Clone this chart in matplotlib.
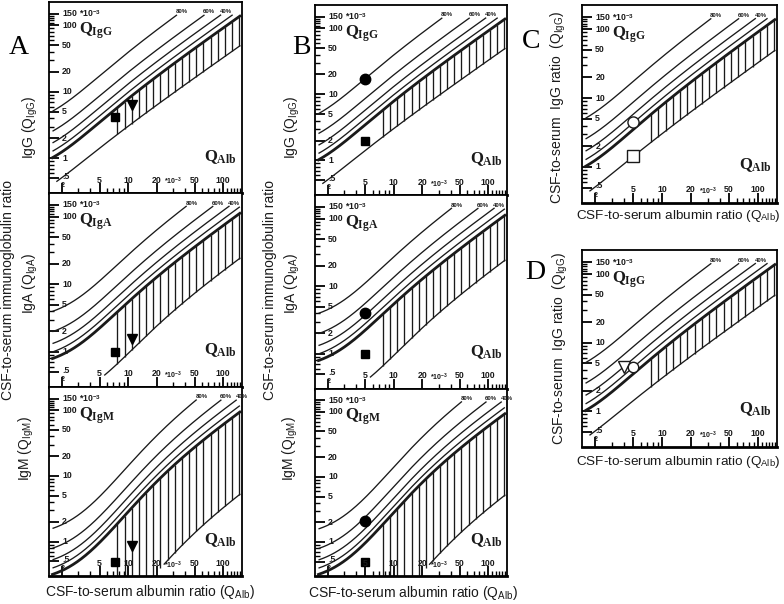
import numpy as np
import matplotlib
matplotlib.use('Agg')
import matplotlib.pyplot as plt
from matplotlib.transforms import blended_transform_factory as btf

plt.rcParams['font.family'] = ['Liberation Sans', 'DejaVu Sans']
plt.rcParams['mathtext.fontset'] = 'custom'
plt.rcParams['mathtext.rm'] = 'Liberation Serif'
plt.rcParams['mathtext.it'] = 'Liberation Serif:bold'
plt.rcParams['mathtext.sf'] = 'Liberation Sans'
plt.rcParams['mathtext.bf'] = 'Liberation Sans:bold'

# Reiber hyperbolas (all quotients in units of 10^-3): Q = ab*sqrt(QAlb^2 + b2) - c
proteins = ['IgG', 'IgA', 'IgM']
upper_ab = [0.93, 0.77, 0.67]
upper_b2 = [6.0, 23.0, 120.0]
upper_c = [1.7, 3.1, 7.1]
lower_ab = [0.33, 0.17, 0.04]
lower_b2 = [2.0, 74.0, 442.0]
lower_c = [0.3, 1.3, 0.82]
fractions = [0.2, 0.4, 0.6, 0.8]
fraction_labels = ['', '40%', '60%', '80%']

y_ticks = [0.5, 1, 2, 5, 10, 20, 50, 100, 150]
y_tick_labels = ['.5', '1', '2', '5', '10', '20', '50', '100', '150 *10$^{\\mathbf{-3}}$']
x_ticks = [5, 10, 20, 50, 100]
x_tick_labels = ['5', '10', '20', '50', '100']

# Patient values (QAlb, Q) in 10^-3
A_square_alb = 7.3
A_square = [4.2, 1.0, 0.49]
A_tri_alb = 11.0
A_tri = [6.3, 1.55, 0.86]
B_circle_alb = 5.0
B_circle = [17.0, 4.0, 2.1]
B_square_alb = 5.0
B_square = [2.0, 1.0, 0.5]
C_circle = (5.0, 4.5)
C_square = (5.0, 1.45)
D_triangle = (4.0, 4.4)
D_circle = (5.0, 4.4)

hatch_start = 7.7
hatch_end = 148.0
n_hatch = 18

W, H = 784, 604
fig = plt.figure(figsize=(7.84, 6.04), dpi=100)
LC = '#1a1a1a'


def add_ax(l, r, t, b):
    return fig.add_axes([l / W, 1 - b / H, (r - l) / W, (b - t) / H])


def reiber(ax, k, label):
    ax.set_xscale('log')
    ax.set_yscale('log')
    ax.set_xlim(1.47, 158)
    ax.set_ylim(0.30, 225)
    x = np.geomspace(1.6, 150, 600)
    up = upper_ab[k] * np.sqrt(x ** 2 + upper_b2[k]) - upper_c[k]
    lo = lower_ab[k] * np.sqrt(x ** 2 + lower_b2[k]) - lower_c[k]
    ymax = 145
    for f, fl in zip(fractions, fraction_labels):
        y = up / (1 - f)
        y = np.where((y > ymax) | (y <= 0), np.nan, y)
        ax.plot(x, y, color=LC, lw=0.95, solid_capstyle='butt')
        if fl:
            idx = np.where(~np.isnan(y))[0][-1]
            ax.text(x[idx] * 1.12, ymax * 1.1, fl, fontsize=4.3, fontweight='bold',
                    ha='center', va='center', color=LC)
    yu = np.where((up > ymax) | (up <= 0), np.nan, up)
    ax.plot(x, yu, color=LC, lw=2.0)
    yl = np.where(lo < 0.45, np.nan, lo)
    ax.plot(x, yl, color=LC, lw=0.95)
    hx = np.geomspace(hatch_start, hatch_end, n_hatch)
    hu = upper_ab[k] * np.sqrt(hx ** 2 + upper_b2[k]) - upper_c[k]
    hl = lower_ab[k] * np.sqrt(hx ** 2 + lower_b2[k]) - lower_c[k]
    hu = np.minimum(hu, ymax)
    ax.vlines(hx, np.maximum(hl, 0.01), hu, color=LC, lw=0.95)

    # ticks
    ax.set_yticks(y_ticks)
    ax.set_yticks([0.6, 0.7, 0.8, 0.9, 3, 4, 6, 7, 8, 9, 30, 40, 60, 70, 80, 90,
                   110, 120, 130, 140], minor=True)
    ax.set_xticks([2] + x_ticks)
    ax.set_xticks([3, 4, 6, 7, 8, 9, 30, 40, 60, 70, 80, 90, 110, 120, 130, 140, 150],
                  minor=True)
    ax.tick_params(which='major', direction='in', length=7, width=1.3,
                   labelleft=False, labelbottom=False, top=False, right=False)
    ax.tick_params(which='minor', direction='in', length=3.5, width=1.0,
                   top=False, right=False, labelleft=False, labelbottom=False)
    for s in ax.spines.values():
        s.set_linewidth(1.3)
    ax.spines['bottom'].set_linewidth(2.0)

    ty = btf(ax.transAxes, ax.transData)
    for v, t in zip(y_ticks, y_tick_labels):
        yy = v * 1.06 if v == 0.5 else v
        ax.text(0.068, yy, t, transform=ty, fontsize=6.3, fontweight='bold',
                ha='left', va='center', color=LC)
    tx = btf(ax.transData, ax.transAxes)
    for v, t in zip(x_ticks, x_tick_labels):
        ax.text(v, 0.068, t, transform=tx, fontsize=6.3, fontweight='bold',
                ha='center', va='center', color=LC)
    ax.text(30, 0.062, '*10$^{\\mathbf{-3}}$', transform=tx, fontsize=5,
            fontweight='bold', ha='center', va='center', color=LC)
    ax.text(2.05, 0.04, '2', transform=tx, fontsize=5, fontweight='bold',
            ha='center', va='center', color=LC)
    ax.text(0.155, 0.85, '$\\mathit{Q}_{\\mathit{' + label + '}}$', transform=ax.transAxes,
            fontsize=12, ha='left', va='center', color=LC)
    ax.text(0.89, 0.19, '$\\mathit{Q}_{\\mathit{Alb}}$', transform=ax.transAxes,
            fontsize=12, ha='center', va='center', color=LC)


axA = [add_ax(49, 242, 2, 193), add_ax(49, 242, 193, 387), add_ax(49, 242, 387, 576)]
axB = [add_ax(315, 507, 5, 195), add_ax(315, 507, 195, 389), add_ax(315, 507, 389, 576)]
axC = add_ax(582, 777, 5, 203)
axD = add_ax(582, 777, 250, 447)

for k in range(3):
    reiber(axA[k], k, proteins[k])
    reiber(axB[k], k, proteins[k])
    axA[k].plot(A_square_alb, A_square[k], 's', color='black', ms=6)
    axA[k].plot(A_tri_alb, A_tri[k], 'v', color='black', ms=6.5)
    axB[k].plot(B_circle_alb, B_circle[k], 'o', color='black', ms=7.5)
    axB[k].plot(B_square_alb, B_square[k], 's', color='black', ms=6)

reiber(axC, 0, 'IgG')
reiber(axD, 0, 'IgG')
axC.plot(*C_circle, 'o', mfc='white', mec=LC, mew=1.0, ms=8)
axC.plot(*C_square, 's', mfc='white', mec=LC, mew=1.0, ms=8)
axD.plot(*D_triangle, 'v', mfc='white', mec=LC, mew=1.0, ms=8)
axD.plot(*D_circle, 'o', mfc='white', mec=LC, mew=1.0, ms=7.5)


def ftext(px, py, s, **kw):
    fig.text(px / W, 1 - py / H, s, **kw)


serif = ['Liberation Serif', 'DejaVu Serif']
ftext(19, 47, 'A', fontsize=20, family=serif, ha='center', va='center')
ftext(301, 47, 'B', fontsize=20, family=serif, ha='center', va='center')
ftext(531, 42, 'C', fontsize=20, family=serif, ha='center', va='center')
ftext(535, 272, 'D', fontsize=20, family=serif, ha='center', va='center')

ylab = dict(fontsize=10, rotation=90, ha='center', va='center', color=LC)
for xc in (30, 293):
    ftext(xc, 127, 'IgG (Q$_{\\mathsf{IgG}}$)', **ylab)
    ftext(xc, 284, 'IgA (Q$_{\\mathsf{IgA}}$)', **ylab)
    ftext(xc - 3, 449, 'IgM (Q$_{\\mathsf{IgM}}$)', **ylab)
ftext(8, 290, 'CSF-to-serum immunoglobulin ratio', **ylab)
ftext(270, 290, 'CSF-to-serum immunoglobulin ratio', **ylab)
ftext(559, 107, 'CSF-to-serum  IgG ratio  (Q$_{\\mathsf{IgG}}$)', **ylab)
ftext(561, 348, 'CSF-to-serum  IgG ratio  (Q$_{\\mathsf{IgG}}$)', **ylab)

xlab = dict(fontsize=10, ha='center', va='center', color=LC)
ftext(150, 592, 'CSF-to-serum albumin ratio (Q$_{\\mathsf{Alb}}$)', **xlab)
ftext(413, 593, 'CSF-to-serum albumin ratio (Q$_{\\mathsf{Alb}}$)', **xlab)
ftext(678, 216, 'CSF-to-serum albumin ratio (Q$_{\\mathsf{Alb}}$)', fontsize=9.7,
      ha='center', va='center', color=LC)
ftext(678, 462, 'CSF-to-serum albumin ratio (Q$_{\\mathsf{Alb}}$)', fontsize=9.7,
      ha='center', va='center', color=LC)

fig.savefig('out.png', dpi=100)
